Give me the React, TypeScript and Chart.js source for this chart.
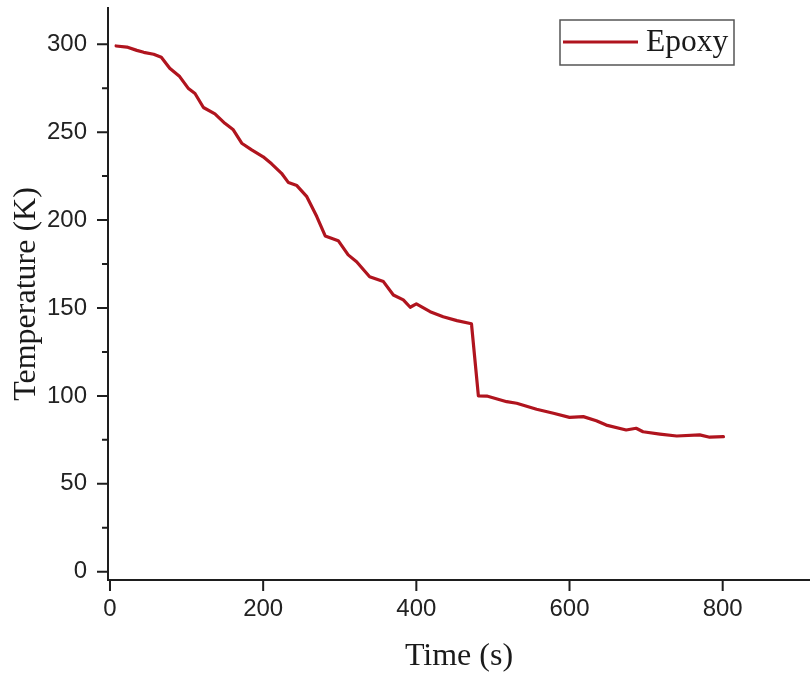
import React, { useEffect, useRef } from "react";
import { Chart, registerables } from "chart.js";

Chart.register(...registerables);

const seriesLabel = "Epoxy";
const timeS = [8, 22, 35, 44, 57, 67, 78, 91, 102, 111, 122, 137, 150, 161, 172, 185, 200, 211, 224, 233, 244, 257, 270, 281, 298, 311, 322, 339, 357, 370, 383, 392, 400, 418, 435, 453, 472, 481, 492, 518, 531, 557, 579, 600, 618, 635, 648, 674, 687, 696, 718, 740, 770, 783, 801];
const tempK = [299, 298.4, 296.5, 295.4, 294.3, 292.6, 286.3, 281.6, 275, 272, 264, 260.4, 255, 251.3, 243.7, 239.9, 236, 232, 226.6, 221.3, 219.6, 213.3, 202, 191, 188.3, 180.2, 176.3, 167.8, 165, 157.4, 154.6, 150.4, 152.3, 147.9, 145, 142.8, 141, 100, 99.9, 96.7, 95.8, 92.4, 90.1, 87.8, 88.2, 85.9, 83.4, 80.6, 81.6, 79.6, 78.3, 77.2, 77.8, 76.5, 76.8];
const xTicks = [0, 200, 400, 600, 800];
const yTicks = [0, 50, 100, 150, 200, 250, 300];
const yMinorTicks = [25, 75, 125, 175, 225, 275];
const xTitle = "Time (s)";
const yTitle = "Temperature (K)";

const LINE_COLOR = "#b0141e";
const AXIS_COLOR = "#1e1e1e";
const SERIF = "'Liberation Serif', 'Times New Roman', serif";

const tickPlugin = {
  id: "customTicks",
  afterDraw(chart: any) {
    const ctx = chart.ctx;
    const xs = chart.scales.x;
    const ys = chart.scales.y;
    const area = chart.chartArea;
    ctx.save();
    ctx.strokeStyle = AXIS_COLOR;
    ctx.lineWidth = 2;
    ctx.beginPath();
    yTicks.forEach((v) => {
      const p = ys.getPixelForValue(v);
      ctx.moveTo(area.left - 11, p);
      ctx.lineTo(area.left, p);
    });
    yMinorTicks.forEach((v) => {
      const p = ys.getPixelForValue(v);
      ctx.moveTo(area.left - 6, p);
      ctx.lineTo(area.left, p);
    });
    xTicks.forEach((v) => {
      const p = xs.getPixelForValue(v);
      ctx.moveTo(p, area.bottom);
      ctx.lineTo(p, area.bottom + 11);
    });
    ctx.stroke();
    // y axis title
    ctx.fillStyle = "#1a1a1a";
    ctx.font = "32px " + SERIF;
    ctx.textAlign = "center";
    ctx.textBaseline = "middle";
    ctx.translate(27, (area.top + area.bottom) / 2);
    ctx.rotate(-Math.PI / 2);
    ctx.fillText(yTitle, 0, 0);
    ctx.restore();
  },
};

const legendPlugin = {
  id: "boxLegend",
  afterDraw(chart: any) {
    const ctx = chart.ctx;
    const ds = chart.data.datasets[0];
    const bx = 560, by = 20, bw = 174, bh = 45;
    ctx.save();
    ctx.fillStyle = "#ffffff";
    ctx.fillRect(bx, by, bw, bh);
    ctx.strokeStyle = "#555555";
    ctx.lineWidth = 1.5;
    ctx.strokeRect(bx, by, bw, bh);
    ctx.strokeStyle = ds.borderColor;
    ctx.lineWidth = 3;
    ctx.beginPath();
    ctx.moveTo(bx + 3, by + 22);
    ctx.lineTo(bx + 78, by + 22);
    ctx.stroke();
    ctx.fillStyle = "#1a1a1a";
    ctx.font = "31.5px " + SERIF;
    ctx.textBaseline = "middle";
    ctx.textAlign = "left";
    ctx.fillText(ds.label, bx + 86, by + 23);
    ctx.restore();
  },
};

export default function App() {
  const ref = useRef<HTMLCanvasElement>(null);
  useEffect(() => {
    if (!ref.current) return;
    const chart = new Chart(ref.current, {
      type: "line",
      data: {
        datasets: [
          {
            label: seriesLabel,
            data: timeS.map((t, i) => ({ x: t, y: tempK[i] })),
            borderColor: LINE_COLOR,
            backgroundColor: LINE_COLOR,
            borderWidth: 3.2,
            pointRadius: 0,
            tension: 0,
            borderJoinStyle: "round",
            borderCapStyle: "round",
          },
        ],
      },
      options: {
        animation: false,
        responsive: false,
        layout: { padding: { top: 8, left: 0, right: 0, bottom: 0 } },
        plugins: {
          legend: { display: false },
          tooltip: { enabled: false },
        },
        scales: {
          x: {
            type: "linear",
            min: -2.6,
            max: 914,
            afterBuildTicks: (s: any) => {
              s.ticks = xTicks.map((v) => ({ value: v }));
            },
            afterFit: (s: any) => {
              s.height = 99;
              s.paddingLeft = 0;
              s.paddingRight = 0;
            },
            grid: { display: false, drawTicks: false },
            border: { display: true, color: AXIS_COLOR, width: 2 },
            ticks: {
              padding: 15,
              color: "#222",
              maxRotation: 0,
              autoSkip: false,
              font: { family: "'Liberation Sans', Arial, sans-serif", size: 24 },
            },
            title: {
              display: true,
              text: xTitle,
              color: "#1a1a1a",
              padding: { top: 0, bottom: 3 },
              font: { family: SERIF, size: 32 },
            },
          },
          y: {
            type: "linear",
            min: -4.7,
            max: 320.6,
            afterBuildTicks: (s: any) => {
              s.ticks = yTicks.map((v) => ({ value: v }));
            },
            afterFit: (s: any) => {
              s.width = 108;
              s.paddingTop = 0;
              s.paddingBottom = 0;
            },
            grid: { display: false, drawTicks: false },
            border: { display: true, color: AXIS_COLOR, width: 2 },
            ticks: {
              padding: 21,
              color: "#222",
              autoSkip: false,
              font: { family: "'Liberation Sans', Arial, sans-serif", size: 24 },
            },
            title: { display: false },
          },
        },
      },
      plugins: [tickPlugin, legendPlugin],
    });
    return () => chart.destroy();
  }, []);
  return (
    <div style={{ position: "fixed", left: 0, top: 0, width: 810, height: 679, background: "#fff" }}>
      <canvas ref={ref} width={810} height={679} style={{ display: "block" }} />
    </div>
  );
}
